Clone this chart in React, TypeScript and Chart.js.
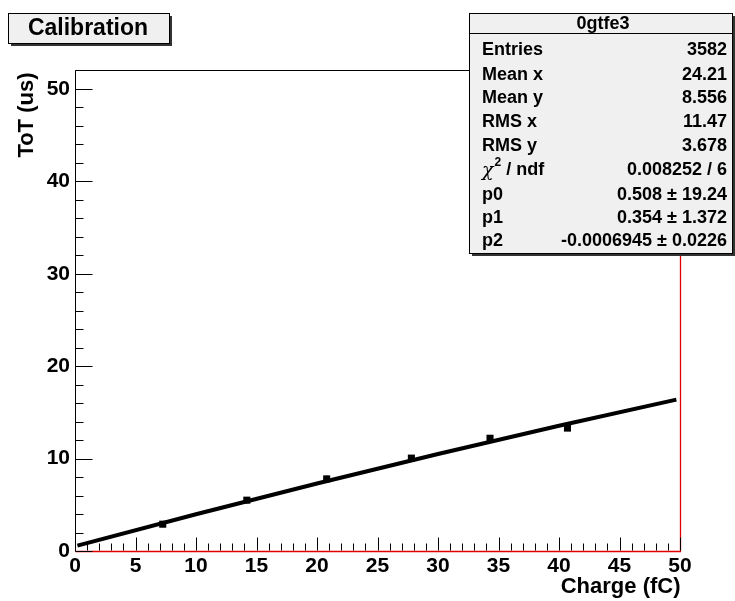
import React, { useEffect, useRef } from "react";
import { Chart, registerables } from "chart.js";

Chart.register(...registerables);

// ---- data ----
const chargeFC = [7.25, 14.2, 20.8, 27.8, 34.3, 40.7];
const totUs = [2.9, 5.5, 7.8, 10.05, 12.2, 13.3];
const totErr = [0.1, 0.1, 0.35, 0.25, 0.1, 0.1];
const fitX = [0.2, 10, 20, 30, 40, 49.7];
const fitY = [0.58, 3.98, 7.31, 10.5, 13.55, 16.38];

const chartTitle = "Calibration";
const xTitle = "Charge (fC)";
const yTitle = "ToT (us)";
const statsName = "0gtfe3";
const statsLabels = ["Entries", "Mean x", "Mean y", "RMS x", "RMS y", "CHI2", "p0", "p1", "p2"];
const statsValues = [
  "3582",
  "24.21",
  "8.556",
  "11.47",
  "3.678",
  "0.008252 / 6",
  "0.508 \u00b1 19.24",
  "0.354 \u00b1 1.372",
  "-0.0006945 \u00b1 0.0226",
];

const X_MIN = 0;
const X_MAX = 50;
const Y_MIN = 0;
const Y_MAX = 52.05;

const FONT = "'Liberation Sans', Arial, Helvetica, sans-serif";
const RED = "#e00000";

const rootPlugin = {
  id: "rootStyle",
  beforeDatasetsDraw(chart: any) {
    const { ctx, scales } = chart;
    const xs = scales.x;
    const ys = scales.y;
    ctx.save();
    ctx.strokeStyle = "#000";
    ctx.lineWidth = 2;
    for (let i = 0; i < chargeFC.length; i++) {
      const px = xs.getPixelForValue(chargeFC[i]);
      const p1 = ys.getPixelForValue(totUs[i] - totErr[i]);
      const p2 = ys.getPixelForValue(totUs[i] + totErr[i]);
      ctx.beginPath();
      ctx.moveTo(px, p1);
      ctx.lineTo(px, p2);
      ctx.stroke();
    }
    ctx.restore();
  },
  afterDraw(chart: any) {
    const { ctx, chartArea, scales } = chart;
    const xs = scales.x;
    const ys = scales.y;
    const L = Math.round(chartArea.left) + 0.5;
    const R = Math.round(chartArea.right) + 0.5;
    const T = Math.round(chartArea.top) + 0.5;
    const B = Math.round(chartArea.bottom) + 0.5;
    ctx.save();
    // frame
    ctx.lineWidth = 1;
    ctx.strokeStyle = "#000";
    ctx.beginPath();
    ctx.moveTo(L, B);
    ctx.lineTo(L, T);
    ctx.lineTo(R, T);
    ctx.stroke();
    ctx.strokeStyle = RED;
    ctx.lineWidth = 1.3;
    ctx.beginPath();
    ctx.moveTo(L, B);
    ctx.lineTo(R, B);
    ctx.lineTo(R, T);
    ctx.stroke();

    // tick marks
    ctx.lineWidth = 1;
    ctx.strokeStyle = "#000";
    for (let v = X_MIN; v <= X_MAX; v += 1) {
      const px = Math.round(xs.getPixelForValue(v)) + 0.5;
      const len = v % 5 === 0 ? 13 : 7;
      ctx.beginPath();
      ctx.moveTo(px, B - 1);
      ctx.lineTo(px, B - 1 - len);
      ctx.stroke();
    }
    for (let v = Y_MIN; v <= Y_MAX; v += 2) {
      const py = Math.round(ys.getPixelForValue(v)) + 0.5;
      const len = v % 10 === 0 ? 17 : 8;
      ctx.beginPath();
      ctx.moveTo(L, py);
      ctx.lineTo(L + len, py);
      ctx.stroke();
    }

    // axis titles
    ctx.fillStyle = "#000";
    ctx.font = `bold 22px ${FONT}`;
    ctx.textAlign = "right";
    ctx.textBaseline = "alphabetic";
    ctx.fillText(xTitle, R, 593);
    ctx.save();
    ctx.translate(27, T + 2);
    ctx.rotate(-Math.PI / 2);
    ctx.textAlign = "right";
    ctx.textBaseline = "middle";
    ctx.fillText(yTitle, 0, 0);
    ctx.restore();

    // boxes
    const drawBox = (x: number, y: number, w: number, h: number) => {
      ctx.fillStyle = "#333";
      ctx.fillRect(x + 3, y + 3, w, h);
      ctx.fillStyle = "#f0f0f0";
      ctx.fillRect(x, y, w, h);
      ctx.strokeStyle = "#000";
      ctx.lineWidth = 1;
      ctx.strokeRect(x + 0.5, y + 0.5, w, h);
    };
    drawBox(8, 13, 161, 30);
    ctx.fillStyle = "#000";
    ctx.font = `bold 23px ${FONT}`;
    ctx.textAlign = "center";
    ctx.textBaseline = "middle";
    ctx.fillText(chartTitle, 88, 29);

    // stats box
    const bx = 469;
    const by = 13;
    const bw = 263;
    const bh = 240;
    drawBox(bx, by, bw, bh);
    ctx.beginPath();
    ctx.moveTo(bx, by + 20.5);
    ctx.lineTo(bx + bw, by + 20.5);
    ctx.stroke();
    ctx.fillStyle = "#000";
    ctx.font = `bold 18px ${FONT}`;
    ctx.textAlign = "center";
    ctx.fillText(statsName, 603, 24);
    const rowY = [50, 75, 98, 122.5, 146.5, 170, 195, 218, 241.5];
    for (let i = 0; i < statsLabels.length; i++) {
      const y = rowY[i];
      ctx.textAlign = "left";
      if (statsLabels[i] === "CHI2") {
        ctx.font = `italic 19px 'DejaVu Serif', serif`;
        ctx.fillText("\u03c7", 482, y + 1);
        const w1 = ctx.measureText("\u03c7").width;
        ctx.font = `bold 12px ${FONT}`;
        ctx.fillText("2", 482 + w1 + 1, y - 7);
        const w2 = ctx.measureText("2").width;
        ctx.font = `bold 18px ${FONT}`;
        ctx.fillText(" / ndf", 482 + w1 + 1 + w2, y);
      } else {
        ctx.font = `bold 18px ${FONT}`;
        ctx.fillText(statsLabels[i], 482, y);
      }
      ctx.font = `bold 18px ${FONT}`;
      ctx.textAlign = "right";
      ctx.fillText(statsValues[i], 727, y);
    }
    ctx.restore();
  },
};

export default function App() {
  const canvasRef = useRef<HTMLCanvasElement | null>(null);

  useEffect(() => {
    const canvas = canvasRef.current;
    if (!canvas) return;
    const chart = new Chart(canvas, {
      type: "scatter",
      data: {
        datasets: [
          {
            label: "fit",
            data: fitX.map((x, i) => ({ x, y: fitY[i] })),
            showLine: true,
            borderColor: "#000",
            borderWidth: 4,
            pointRadius: 0,
            order: 2,
          },
          {
            label: "points",
            data: chargeFC.map((x, i) => ({ x, y: totUs[i] })),
            pointStyle: "rect",
            pointRadius: 5,
            backgroundColor: "#000",
            borderColor: "#000",
            borderWidth: 0,
            order: 1,
          },
        ],
      },
      options: {
        responsive: false,
        animation: false,
        layout: { padding: { left: 0, top: 70, right: 55, bottom: 0 } },
        plugins: {
          legend: { display: false },
          tooltip: { enabled: false },
          title: { display: false },
        },
        scales: {
          x: {
            type: "linear",
            min: X_MIN,
            max: X_MAX,
            grid: { display: false, drawTicks: false },
            border: { display: false },
            ticks: {
              stepSize: 5,
              includeBounds: false,
              maxRotation: 0,
              autoSkip: false,
              padding: 3,
              color: "#000",
              font: { family: FONT, size: 21, weight: "bold" },
            },
            afterFit(scale: any) {
              scale.height = 50;
            },
          },
          y: {
            type: "linear",
            min: Y_MIN,
            max: Y_MAX,
            grid: { display: false, drawTicks: false },
            border: { display: false },
            ticks: {
              stepSize: 10,
              includeBounds: false,
              autoSkip: false,
              padding: 5,
              color: "#000",
              font: { family: FONT, size: 21, weight: "bold" },
            },
            afterFit(scale: any) {
              scale.width = 75;
            },
          },
        },
      },
      plugins: [rootPlugin],
    });
    return () => chart.destroy();
  }, []);

  return (
    <div style={{ position: "fixed", left: 0, top: 0, width: 735, height: 601, background: "#fff" }}>
      <canvas ref={canvasRef} width={735} height={601} style={{ width: 735, height: 601 }} />
    </div>
  );
}
